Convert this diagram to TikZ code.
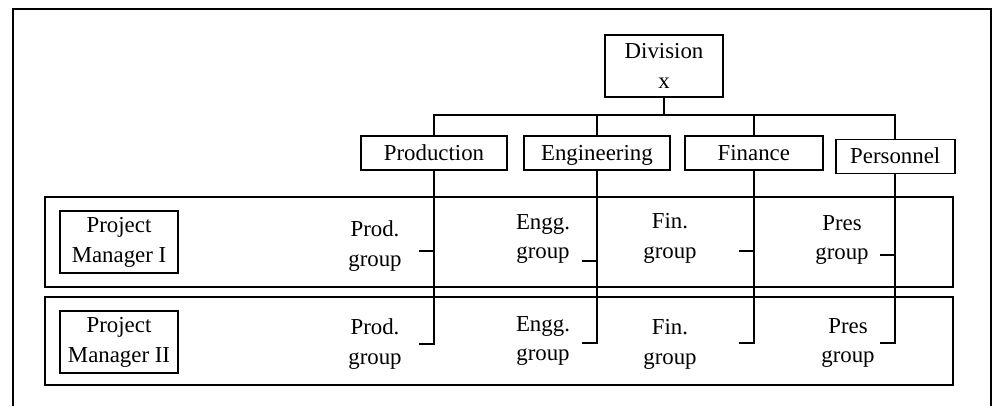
\documentclass[tikz,border=0pt]{standalone}
\usepackage{fontspec}
\setmainfont{Liberation Serif}
\usetikzlibrary{positioning,fit}
\tikzset{
  dbox/.style={draw,line width=1.1pt,align=center,inner sep=2pt,minimum height=0.68cm},
  deptbox/.style={dbox,text height=10pt,text depth=1.5pt},
  pmbox/.style={dbox,minimum width=2.36cm,minimum height=1.24cm},
  lbl/.style={align=center},
  rowbox/.style={draw,line width=1.1pt,inner sep=0pt},
  link/.style={line width=0.9pt},
}

\begin{document}
\begin{tikzpicture}[x=0.02cm,y=-0.02cm,font=\fontsize{13}{17}\selectfont]
  \useasboundingbox (0,0) rectangle (994,406);
  % outer frame
  \draw[link] (13,406) -- (13,9) -- (991,9) -- (991,406);
  % project rows
  \coordinate (r1a) at (45,197); \coordinate (r1b) at (953,287);
  \coordinate (r2a) at (45,297); \coordinate (r2b) at (953,385);
  \node[rowbox,fit=(r1a)(r1b)] (row1) {};
  \node[rowbox,fit=(r2a)(r2b)] (row2) {};
  % division and departments
  \node[pmbox] (div) at (664,66) {Division\\x};
  \node[deptbox,minimum width=2.92cm] (prod) at (434,153) {Production};
  \node[deptbox,minimum width=2.92cm,right=0.3cm of prod] (engg) {Engineering};
  \node[deptbox,minimum width=2.76cm,right=0.26cm of engg] (fin) {Finance};
  \node[deptbox,minimum width=2.38cm,right=0.22cm of fin,yshift=-2pt] (pers) {Personnel};
  \coordinate (bus) at (664,115);
  \draw[link] (div) -- (bus);
  \foreach \d in {prod,engg,fin,pers}
    \draw[link] (\d.north) |- (bus);
  % project managers
  \node[pmbox] (pm1) at (119,242) {Project\\Manager I};
  \node[pmbox] (pm2) at (119,342) {Project\\Manager II};
  % groups
  \node[lbl] (pg1) at (375,246) {Prod.\\group};
  \node[lbl] (eg1) at (543,239) {Engg.\\group};
  \node[lbl] (fg1) at (670,238) {Fin.\\group};
  \node[lbl] (rg1) at (842,240) {Pres\\group};
  \node[lbl] (pg2) at (375,344) {Prod.\\group};
  \node[lbl] (eg2) at (543,341) {Engg.\\group};
  \node[lbl] (fg2) at (670,344) {Fin.\\group};
  \node[lbl] (rg2) at (848,343) {Pres\\group};
  % brackets
  \foreach \d/\ya/\yb in {prod/251/344,engg/261/343,fin/251/343,pers/255/343}{
    \draw[link] (\d.south) -- (\d.south |- 0,\yb) -- ++(-15,0);
    \draw[link] (\d.south |- 0,\ya) -- ++(-15,0);
  }
\end{tikzpicture}
\end{document}
